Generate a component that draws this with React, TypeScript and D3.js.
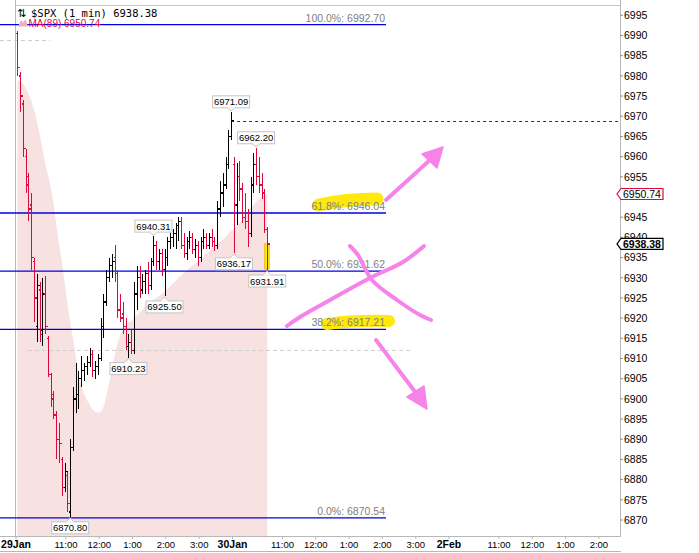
import React from 'react'
import * as d3 from 'd3'

// 5-minute OHLC, Jan 29 09:30 -> Jan 30 ~10:32
const barOpen = [
  6990.5, 6980, 6973, 6960, 6953, 6948, 6934, 6918, 6927, 6917, 6926, 6915, 6906, 6901, 6896, 6890, 6885, 6878, 6881, 6872,
  6888, 6900, 6901, 6905, 6907, 6908, 6909, 6911, 6907, 6908, 6910, 6918, 6924, 6930, 6933, 6935, 6931, 6922, 6921, 6918,
  6913, 6914, 6912, 6926, 6930, 6927, 6929, 6931, 6928, 6934, 6938, 6934, 6936, 6932, 6935, 6939, 6940, 6941, 6943, 6944,
  6938, 6936, 6939, 6940, 6937, 6938, 6935, 6939, 6940, 6938, 6940, 6939, 6938, 6947, 6951, 6953, 6958, 6965,
  6958, 6948, 6955, 6952, 6946, 6944, 6941, 6953, 6958, 6955, 6953, 6951, 6942,
]
const barHigh = [
  6991.2, 6981, 6974, 6962, 6956, 6951, 6935, 6931, 6929, 6930, 6930.5, 6915.5, 6906.5, 6902, 6897, 6894, 6885.5, 6884, 6882, 6890,
  6903, 6909, 6907, 6910.5, 6909, 6910.5, 6912.5, 6912, 6909.5, 6911, 6920, 6926, 6932, 6935, 6936, 6938, 6932, 6926, 6924, 6920,
  6916, 6917, 6929, 6933, 6933, 6931, 6932, 6934, 6935, 6940.31, 6939, 6937, 6937, 6937, 6940, 6941, 6942, 6943.5, 6945, 6945,
  6941, 6940, 6941.5, 6941, 6939.5, 6939, 6940, 6942, 6941, 6941, 6942, 6940, 6949, 6954, 6956, 6960, 6966.5, 6971.09,
  6960, 6958.5, 6959, 6953.5, 6951, 6947, 6955, 6961, 6962.2, 6960, 6956, 6952, 6942.5,
]
const barLow = [
  6980, 6971, 6960, 6951, 6944, 6932, 6919, 6914, 6914, 6913, 6916, 6905.5, 6898, 6895, 6885, 6884, 6876, 6877, 6872, 6870.8,
  6887, 6896.5, 6897.5, 6903, 6904.5, 6906, 6908, 6905.5, 6905, 6906, 6909.5, 6915, 6923, 6929, 6930, 6929, 6920, 6919, 6916, 6912,
  6910.23, 6911, 6911, 6922, 6925, 6926, 6926, 6926, 6927, 6933, 6932, 6932, 6930.5, 6925.5, 6933, 6937, 6937.5, 6937, 6939, 6937,
  6935, 6934.5, 6937, 6936, 6935, 6933, 6934, 6937, 6937, 6937, 6937.5, 6936.5, 6937, 6945, 6947.5, 6952, 6957, 6964,
  6936.17, 6943, 6949, 6943.5, 6942, 6937.7, 6940, 6951, 6953, 6951, 6949.5, 6941, 6931.91,
]
const barClose = [
  6982, 6975, 6962, 6955, 6947, 6935, 6925, 6928, 6916, 6926, 6918, 6906, 6900, 6896, 6890, 6889, 6878, 6882, 6874, 6888,
  6900, 6901, 6905, 6907, 6908, 6909, 6911, 6907, 6908, 6910, 6918, 6924, 6930, 6933, 6934, 6931, 6922, 6920, 6918, 6913,
  6914, 6912, 6926, 6930, 6927, 6929, 6931, 6928, 6934, 6938, 6934, 6936, 6932, 6935, 6939, 6940, 6941, 6943, 6944, 6938,
  6936, 6939, 6940, 6937, 6938, 6935, 6939, 6940, 6938, 6940, 6939, 6938, 6947, 6951, 6953, 6958, 6965, 6969,
  6948, 6955, 6952, 6945, 6944, 6941, 6953, 6958, 6955, 6953, 6951, 6942, 6938.38,
]
const ma89 = [
  6979.0, 6978.7, 6978.0, 6977.0, 6975.5, 6973.8, 6971.6, 6968.8, 6965.6, 6961.9, 6958.4, 6955.5, 6952.5, 6948.5, 6943.1, 6938.2,
  6934.0, 6929.0, 6923.8, 6919.1, 6915.1, 6910.5, 6906.2, 6903.5, 6901.3, 6899.8, 6898.6, 6897.5, 6896.8, 6896.6, 6896.8, 6898.0,
  6900.5, 6903.8, 6907.2, 6910.7, 6913.4, 6915.6, 6917.1, 6918.1, 6918.9, 6919.3, 6920.1, 6920.8, 6921.3, 6922.1, 6922.8, 6923.6,
  6924.0, 6924.5, 6925.0, 6925.5, 6926.0, 6926.5, 6927.3, 6927.8, 6928.5, 6929.2, 6930.0, 6930.5, 6931.2, 6931.7, 6932.5, 6932.9,
  6933.4, 6933.9, 6934.4, 6935.2, 6935.9, 6936.4, 6937.2, 6937.7, 6938.4, 6938.9, 6939.4, 6940.1, 6940.9, 6941.6, 6942.1, 6942.9,
  6943.6, 6944.3, 6945.3, 6946.3, 6947.1, 6948.0, 6948.8, 6949.5, 6950.0, 6950.5, 6950.74,
]

const fibPct = ['100.0%', '61.8%', '50.0%', '38.2%', '0.0%']
const fibValue = [6992.7, 6946.04, 6931.62, 6917.21, 6870.54]

const priceTicks = d3.range(6870, 7001, 5)
const dayLabels = ['29Jan', '30Jan', '2Feb']
const hourLabels = ['11:00', '12:00', '1:00', '2:00', '3:00']
const hourMinutes = [90, 150, 210, 270, 330] // minutes after the 9:30 open

const highTags = [49, 77, 86] // bars whose high is labelled
const lowTags = [19, 40, 53, 78, 90]

const prevClose = 6968.8
const lastPrice = 6938.38
const maLast = 6950.74

const W = 699
const H = 553
const plotLeft = 16
const plotRight = 620
const plotBottom = 536
const barMinutes = 5
const sessionLen = 390
const minutesShown = 1088

const UP = '#000000'
const DOWN = '#dc0a3c'
const FIB = '#0000e6'
const PEN = '#f683ea'
const MARKER = '#ffe80a'
const SANS = '"Liberation Sans", Arial, sans-serif'

const x = d3.scaleLinear().domain([0, minutesShown]).range([plotLeft, plotRight])
const y = d3.scaleLinear().domain([6870, 6995]).range([520, 15.3])
const barX = (i: number) => x(i * barMinutes + barMinutes / 2)

const maArea = d3
  .area<number>()
  .x((_d, i) => barX(i))
  .y0(plotBottom)
  .y1(d => y(d))
  .curve(d3.curveMonotoneX)

const pen = d3
  .line<[number, number]>()
  .curve(d3.curveCatmullRom)

const PriceTag = ({ cx, py, label, above }: { cx: number; py: number; label: string; above: boolean }) => {
  const w = 37
  const h = 12
  const top = above ? py - 4 - h : py + 5
  const edge = above ? top + h : top
  const tip = above ? py - 1 : py + 1
  return (
    <g>
      <path
        d={`M${cx - 4},${edge} L${cx},${tip} L${cx + 4},${edge}`}
        fill="#fff"
        stroke="#c4c4c4"
      />
      <rect x={cx - w / 2} y={top} width={w} height={h} fill="#fff" stroke="#c4c4c4" />
      <line x1={cx - 3.5} x2={cx + 3.5} y1={edge} y2={edge} stroke="#fff" strokeWidth={1.2} />
      <text x={cx} y={top + h - 2.5} textAnchor="middle" fontSize={9.5} fontFamily={SANS} fill="#000">
        {label}
      </text>
    </g>
  )
}

const AxisTag = ({ value, color, bold }: { value: number; color: string; bold?: boolean }) => {
  const cy = y(value)
  return (
    <g>
      <path
        d={`M621,${cy - 5.5} L663,${cy - 5.5} L663,${cy + 5.5} L621,${cy + 5.5} L617,${cy} Z`}
        fill="#fff"
        stroke={color}
        strokeWidth={1.2}
      />
      <text x={623} y={cy + 4} fontSize={10.5} fontWeight={bold ? 700 : 400} fontFamily={SANS} fill="#000">
        {value.toFixed(2)}
      </text>
    </g>
  )
}

export default function App() {
  const lastIdx = barClose.length - 1

  const timeTicks: { m: number; label: string; bold: boolean }[] = []
  dayLabels.forEach((day, d) => {
    timeTicks.push({ m: d * sessionLen, label: day, bold: true })
    hourMinutes.forEach((hm, k) => {
      const m = d * sessionLen + hm
      if (m <= minutesShown) timeTicks.push({ m, label: hourLabels[k], bold: false })
    })
  })

  // the MA tag hides the 6950 label, as on the original chart
  const shownTicks = priceTicks.filter(t => Math.abs(y(t) - y(maLast)) > 4)

  return (
    <div style={{ position: 'fixed', left: 0, top: 0, background: '#fff' }}>
      <svg width={W} height={H} style={{ display: 'block' }}>
        <rect width={W} height={H} fill="#fff" />

        {/* MA(89) shading */}
        <path d={maArea(ma89) || ''} fill="#f7e1e1" />

        {/* frame */}
        <line x1={plotLeft} x2={plotRight} y1={5.5} y2={5.5} stroke="#c6c6c6" />
        <line x1={plotLeft - 0.5} x2={plotLeft - 0.5} y1={0} y2={plotBottom} stroke="#b8b8b8" />

        {/* light dashed guides */}
        <line x1={0} x2={50} y1={40.5} y2={40.5} stroke="#cfcfcf" strokeDasharray="4,3" />
        <line x1={28} x2={410} y1={350.5} y2={350.5} stroke="#cfcfcf" strokeDasharray="4,3" />

        {/* fibonacci retracement */}
        {fibValue.map((v, k) => (
          <line key={k} x1={0} x2={386} y1={y(v)} y2={y(v)} stroke={FIB} strokeWidth={1.3} />
        ))}

        {/* previous close */}
        <line
          x1={barX(77)}
          x2={plotRight}
          y1={Math.round(y(prevClose)) + 0.5}
          y2={Math.round(y(prevClose)) + 0.5}
          stroke="#1a1aff"
          strokeWidth={1.1}
          strokeDasharray="3,3"
        />

        {/* current bar marker */}
        <rect
          x={barX(lastIdx) - 2.5}
          y={y(lastPrice)}
          width={4.5}
          height={y(barLow[lastIdx]) - y(lastPrice) - 1}
          fill={MARKER}
          stroke="#e2b400"
          strokeWidth={0.8}
        />

        {/* OHLC bars */}
        <g shapeRendering="crispEdges" strokeWidth={1.3}>
          {barClose.map((c, i) => {
            const bx = Math.round(barX(i)) + 0.5
            const col = c >= barOpen[i] ? UP : DOWN
            return (
              <g key={i} stroke={col}>
                <line x1={bx} x2={bx} y1={y(barHigh[i])} y2={y(barLow[i])} />
                <line x1={bx - 2} x2={bx} y1={y(barOpen[i])} y2={y(barOpen[i])} />
                <line x1={bx} x2={bx + 2} y1={y(c)} y2={y(c)} />
              </g>
            )
          })}
        </g>

        {/* high / low tags */}
        {highTags.map(i => (
          <PriceTag key={`h${i}`} cx={barX(i)} py={y(barHigh[i])} label={barHigh[i].toFixed(2)} above />
        ))}
        {lowTags.map(i => (
          <PriceTag key={`l${i}`} cx={barX(i)} py={y(barLow[i])} label={barLow[i].toFixed(2)} above={false} />
        ))}

        {/* highlighter marks under two fib labels */}
        <path d="M319,205 Q345,199 377,199" fill="none" stroke={MARKER} strokeWidth={13} strokeLinecap="round" />
        <path d="M327,324 Q355,320 389,321" fill="none" stroke={MARKER} strokeWidth={12} strokeLinecap="round" />

        {fibValue.map((v, k) => (
          <text key={k} x={385} y={y(v) - 3} textAnchor="end" fontSize={10.5} fontFamily={SANS} fill="#808080">
            {`${fibPct[k]}: ${v.toFixed(2)}`}
          </text>
        ))}

        {/* hand-drawn scenario arrows */}
        <g fill="none" stroke={PEN} strokeWidth={4} strokeLinecap="round" strokeLinejoin="round">
          <path d={pen([[386, 200], [408, 180], [431, 159]]) || ''} />
          <path d={pen([[376, 340], [397, 368], [416, 393]]) || ''} />
          <path d={pen([[287, 326], [300, 317], [330, 300], [370, 278], [403, 262], [424, 246]]) || ''} />
          <path d={pen([[350, 246], [358, 255], [372, 280], [397, 300], [420, 315], [431, 320]]) || ''} />
        </g>
        <path d="M443,147 L422,154 L437,168 Z" fill={PEN} stroke={PEN} strokeWidth={1.5} strokeLinejoin="round" />
        <path d="M427,409 L407,397 L424,386 Z" fill={PEN} stroke={PEN} strokeWidth={1.5} strokeLinejoin="round" />

        {/* legend */}
        <text x={17} y={16.5} fontSize={11} fontFamily='"DejaVu Sans", sans-serif' fill="#000">
          ⇅
        </text>
        <text x={31} y={16.5} fontSize={10.5} fontFamily='"DejaVu Sans Mono", monospace' fill="#000">
          $SPX (1 min) 6938.38
        </text>
        <path d="M18,26.5 L21,20 L23,22.5 L25.5,19 L28,26.5 Z" fill="#eeb0bd" />
        <text x={28.5} y={26.5} fontSize={10} fontFamily={SANS} fill={DOWN}>
          MA(89) {maLast.toFixed(2)}
        </text>

        {/* right price axis */}
        <line x1={plotRight + 0.5} x2={plotRight + 0.5} y1={0} y2={plotBottom} stroke="#b8b8b8" />
        {priceTicks.map(t => (
          <line key={t} x1={plotRight} x2={plotRight + 3} y1={y(t)} y2={y(t)} stroke="#909090" />
        ))}
        {shownTicks.map(t => (
          <text key={t} x={624} y={y(t) + 3.8} fontSize={10.5} fontFamily={SANS} fill="#000">
            {t}
          </text>
        ))}
        <AxisTag value={maLast} color={DOWN} />
        <AxisTag value={lastPrice} color="#000" bold />

        {/* time axis */}
        <line x1={0} x2={plotRight + 1} y1={plotBottom + 0.5} y2={plotBottom + 0.5} stroke="#b8b8b8" />
        <line x1={0} x2={plotRight + 1} y1={551.5} y2={551.5} stroke="#b8b8b8" />
        {timeTicks.map(t => (
          <g key={t.m}>
            <line x1={x(t.m)} x2={x(t.m)} y1={plotBottom} y2={plotBottom + 3} stroke="#b8b8b8" />
            <text
              x={x(t.m)}
              y={547.5}
              textAnchor="middle"
              fontSize={t.bold ? 10.5 : 9.5}
              fontWeight={t.bold ? 700 : 400}
              fontFamily={SANS}
              fill="#000"
            >
              {t.label}
            </text>
          </g>
        ))}
      </svg>
    </div>
  )
}
